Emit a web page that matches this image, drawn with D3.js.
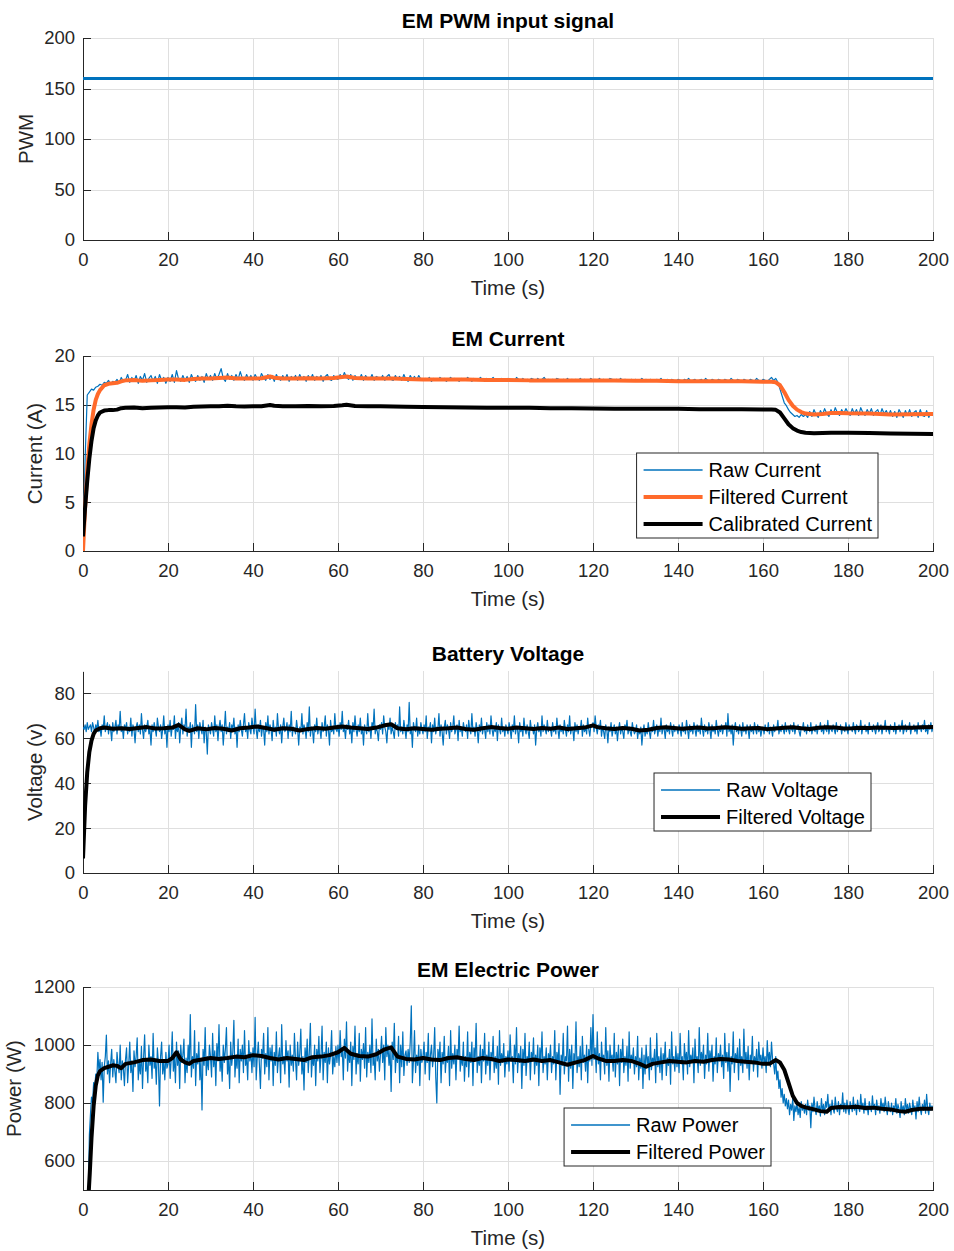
<!DOCTYPE html>
<html>
<head>
<meta charset="utf-8">
<script src="https://cdn.jsdelivr.net/npm/d3@7"></script>
<style>
  body { margin: 0; background: #fff; }
  svg { display: block; }
  text { font-family: "Liberation Sans", Arial, Helvetica, sans-serif; }
  .grid line { stroke: #dfdfdf; stroke-width: 1; shape-rendering: crispEdges; }
  .grid .domain { display: none; }
  .axis text { fill: #262626; font-size: 18.5px; }
  .axis line, .axis path { stroke: #262626; shape-rendering: crispEdges; }
</style>
</head>
<body>
<div id="chart"></div>
<script>
// ---- data ----
var timeTicks = [0, 20, 40, 60, 80, 100, 120, 140, 160, 180, 200]
var pwmTicks = [0, 50, 100, 150, 200]
var currentTicks = [0, 5, 10, 15, 20]
var voltageTicks = [0, 20, 40, 60, 80]
var powerTicks = [600, 800, 1000, 1200]

var pwmTime = [0, 200]
var pwmValue = [160, 160]

// raw current sampled every 0.5 s, raw voltage / power every 0.25 s (from t = 0)
var currentStep = 0.5
var rawStep = 0.25

var rawCurrent = [
  0.2,9.5,16.0,16.3,16.6,16.5,16.8,16.9,17.1,17.0,17.3,17.2,17.5,17.1,17.4,17.3,17.6,17.2,17.8,17.4,
  17.5,18.1,17.3,17.8,17.4,18.0,17.2,17.9,17.5,18.2,17.3,17.7,18.0,17.4,17.9,17.2,18.1,17.5,17.8,17.2,
  17.8,17.4,18.1,17.3,18.5,17.6,17.4,18.0,17.5,17.9,17.3,18.1,17.6,17.4,18.0,17.5,17.9,17.3,18.2,17.6,
  18.0,17.5,18.2,17.6,18.1,18.7,17.7,17.4,18.2,17.6,18.0,17.5,18.1,17.6,18.4,17.7,17.5,18.1,17.6,18.0,
  17.5,18.1,17.7,17.5,18.2,17.8,17.5,18.1,17.6,18.0,17.4,18.1,17.7,17.5,18.0,17.6,18.1,17.4,17.9,17.6,
  18.0,17.5,18.1,17.6,17.9,17.4,18.0,17.6,18.1,17.5,17.9,17.6,18.0,17.4,17.9,18.1,17.6,17.5,18.0,17.7,
  17.6,18.1,17.7,18.3,17.8,17.6,18.1,17.5,18.0,17.7,17.6,18.1,17.5,18.0,17.7,17.6,18.1,17.5,17.9,17.8,
  17.6,18.0,17.5,17.9,18.1,17.6,17.5,18.0,17.6,17.9,17.5,18.1,17.6,17.4,18.0,17.6,17.9,17.5,18.0,17.6,
  17.5,17.7,17.6,17.8,17.4,17.7,17.6,17.5,17.8,17.6,17.7,17.4,17.6,17.8,17.5,17.7,17.6,17.4,17.7,17.6,
  17.5,17.8,17.6,17.4,17.7,17.6,17.5,17.8,17.6,17.4,17.7,17.5,17.6,17.8,17.5,17.6,17.4,17.7,17.6,17.5,
  17.7,17.5,17.6,17.4,17.8,17.6,17.5,17.7,17.4,17.6,17.5,17.7,17.6,17.4,17.7,17.5,17.6,17.8,17.5,17.6,
  17.4,17.6,17.5,17.7,17.6,17.4,17.6,17.5,17.7,17.4,17.6,17.5,17.6,17.4,17.7,17.5,17.6,17.4,17.5,17.7,
  17.5,17.6,17.4,17.7,17.5,17.6,17.4,17.5,17.7,17.6,17.4,17.6,17.5,17.7,17.4,17.6,17.5,17.4,17.6,17.5,
  17.6,17.4,17.5,17.7,17.5,17.6,17.4,17.6,17.5,17.4,17.6,17.5,17.7,17.4,17.5,17.6,17.4,17.6,17.5,17.4,
  17.6,17.5,17.4,17.6,17.5,17.7,17.4,17.5,17.6,17.4,17.5,17.6,17.4,17.7,17.5,17.4,17.6,17.5,17.4,17.6,
  17.5,17.4,17.6,17.5,17.4,17.7,17.5,17.4,17.6,17.5,17.3,17.6,17.5,17.4,17.6,17.5,17.4,17.7,17.5,17.4,
  17.6,17.5,17.4,17.6,17.8,17.5,17.7,17.3,16.6,15.9,15.2,14.9,14.5,14.2,14.0,13.8,13.9,13.7,14.0,13.8,
  14.0,13.7,14.3,13.8,14.5,14.0,13.7,14.4,14.0,14.6,14.1,13.8,14.5,14.0,14.7,14.2,13.9,14.5,14.1,14.6,
  14.2,13.9,14.6,14.1,14.5,13.9,14.7,14.2,13.9,14.5,14.1,14.6,13.9,14.3,14.5,13.9,14.6,14.1,14.4,13.9,
  14.4,13.8,14.3,13.7,14.5,14.1,13.7,14.4,13.9,14.5,13.8,14.2,14.4,13.7,14.5,13.9,13.8,14.4,13.7,14.2,
  14.0
]

var filteredCurrent = [
  [0,0],[0.5,4.5],[1,8.3],[1.5,11],[2,13],[2.5,14.5],[3,15.5],[3.5,16.1],[4,16.5],[5,17.0],[6,17.15],
  [7,17.2],[8,17.25],[9,17.4],[10,17.5],[12,17.55],[14,17.45],[16,17.5],[18,17.55],[20,17.6],[22,17.6],
  [24,17.55],[26,17.65],[28,17.7],[30,17.7],[32,17.75],[34,17.8],[36,17.7],[38,17.7],[40,17.7],[42,17.72],
  [44,17.9],[45,17.78],[47,17.7],[50,17.7],[53,17.72],[56,17.7],[59,17.75],[61,17.85],[62,17.9],[64,17.75],
  [67,17.7],[70,17.7],[73,17.68],[76,17.65],[80,17.6],[85,17.6],[90,17.58],[95,17.55],[100,17.55],[105,17.5],
  [110,17.5],[115,17.5],[120,17.5],[125,17.48],[130,17.45],[135,17.45],[140,17.42],[145,17.42],[150,17.4],
  [155,17.4],[160,17.35],[162,17.35],[163,17.3],[164,17.0],[165,16.3],[166,15.5],[167,14.9],[168,14.5],
  [169,14.25],[170,14.1],[172,14.0],[174,14.05],[176,14.15],[178,14.15],[180,14.12],[185,14.1],[190,14.0],
  [195,14.02],[200,14.05]
]

var calibratedCurrent = [
  [0,1.5],[0.5,4.5],[1,7.2],[1.5,9.5],[2,11.3],[2.5,12.6],[3,13.4],[3.5,13.9],[4,14.2],[5,14.4],[6,14.45],
  [7,14.45],[8,14.5],[9,14.65],[10,14.7],[12,14.72],[14,14.65],[16,14.7],[18,14.72],[20,14.75],[22,14.75],
  [24,14.72],[26,14.8],[28,14.82],[30,14.85],[32,14.85],[34,14.9],[36,14.85],[38,14.82],[40,14.85],[42,14.85],
  [44,14.98],[45,14.9],[47,14.85],[50,14.85],[53,14.87],[56,14.85],[59,14.88],[61,14.95],[62,15.0],[64,14.88],
  [67,14.85],[70,14.85],[73,14.82],[76,14.8],[80,14.78],[85,14.75],[90,14.72],[95,14.7],[100,14.7],[105,14.68],
  [110,14.65],[115,14.65],[120,14.62],[125,14.6],[130,14.6],[135,14.58],[140,14.58],[145,14.55],[150,14.55],
  [155,14.55],[160,14.52],[162,14.52],[163,14.48],[164,14.2],[165,13.6],[166,13.0],[167,12.6],[168,12.35],
  [169,12.2],[170,12.12],[172,12.08],[174,12.1],[176,12.12],[178,12.12],[180,12.12],[185,12.1],[190,12.05],
  [195,12.02],[200,12.0]
]

var rawVoltage = [
  65,64,66,63,67,64,65,66,63,67,65,62,66,64,68,63,65,61,66,64,70,63,65,67,62,66,64,59,67,63,65,68,62,66,64,72,63,65,60,66,
  64,67,62,65,63,69,61,66,64,58,65,67,63,66,62,71,64,60,66,63,65,68,62,64,57,66,63,67,64,61,69,65,63,66,60,64,70,62,65,56,
  66,63,68,61,65,64,70,60,66,63,67,58,65,69,62,66,64,73,61,65,63,67,56,66,64,62,75,63,66,60,67,64,62,68,58,65,63,53,66,64,
  62,67,64,61,70,63,66,59,65,68,63,66,57,64,72,62,65,63,67,60,66,64,69,62,65,56,66,63,68,64,61,66,71,63,65,60,67,64,62,69,
  65,62,73,64,60,66,63,68,61,65,64,57,67,63,70,62,66,64,59,68,63,65,61,71,64,62,66,58,65,69,63,64,67,60,66,63,72,61,65,64,
  62,68,64,57,65,63,71,62,66,64,60,67,63,74,61,65,64,58,66,63,69,62,65,64,60,67,63,65,70,61,66,64,57,68,63,65,62,71,64,63,
  66,61,67,64,72,63,65,60,66,64,68,62,65,58,67,63,70,64,61,66,63,69,62,65,57,66,64,62,71,63,65,60,67,64,73,62,65,63,59,66,
  64,67,62,70,65,63,58,66,64,69,62,65,63,60,67,64,66,61,74,63,65,62,68,64,60,66,63,76,62,65,56,67,64,63,69,61,65,62,67,64,
  62,66,63,70,60,65,64,67,58,66,63,69,62,65,64,71,61,66,63,57,65,68,62,66,64,60,67,63,65,70,62,64,66,59,68,63,65,61,67,64,
  63,66,60,68,64,62,71,63,65,61,67,64,58,66,63,69,62,65,64,60,67,63,66,62,70,64,61,65,63,67,59,66,64,62,69,63,65,61,66,64,
  62,67,64,60,66,63,70,62,65,64,58,67,63,65,61,69,64,62,66,63,60,68,64,65,62,66,57,64,67,63,65,61,70,63,66,64,62,68,63,65,
  64,61,67,63,65,62,69,64,60,66,63,65,62,68,64,61,66,63,70,62,65,64,59,67,63,66,62,65,64,68,61,66,63,65,62,69,64,61,66,65,
  67,63,70,65,62,66,64,68,61,65,63,60,66,64,58,65,63,67,61,64,66,62,65,59,64,67,62,65,63,60,66,64,68,62,65,63,61,67,64,62,
  63,66,60,64,62,65,57,63,66,61,64,62,67,63,60,65,63,68,62,64,66,61,65,63,69,62,65,64,60,66,63,65,62,67,64,61,66,63,65,64,
  62,66,64,61,67,63,65,62,68,64,60,66,63,65,62,67,64,61,66,63,65,62,69,64,61,66,63,65,62,67,64,60,66,63,65,62,68,64,61,65,
  63,66,62,65,64,67,61,71,63,65,62,66,57,64,67,63,65,62,66,64,61,67,63,65,62,66,64,60,66,63,65,62,67,64,62,66,63,65,61,64,
  65,62,66,64,63,67,62,65,64,61,66,63,65,64,68,62,65,63,66,64,62,67,63,65,64,62,66,64,63,67,62,65,64,66,63,61,65,64,67,63,
  65,62,66,64,63,67,62,65,64,63,66,62,65,64,67,63,65,62,66,64,63,68,62,65,64,63,66,64,62,67,63,65,64,66,62,65,64,63,67,64,
  62,66,64,65,63,67,64,62,66,65,63,64,68,62,65,64,66,63,65,62,67,64,65,63,66,64,62,65,67,63,64,66,62,65,64,68,63,65,64,62,
  66,64,65,63,67,62,65,64,66,63,65,68,62,64,66,63,65,64,67,62,65,64,66,63,65,62,67,64,65,63,66,64,68,63,65,62,66,64,67,63,
  65
]

var filteredVoltage = [
  [0,6.5],[0.5,30],[1,45],[1.5,54],[2,59],[2.5,62],[3,63.5],[4,64.5],[5,64.8],[7,64.3],[9,64.5],[11,64.2],
  [13,64.6],[15,65],[17,64.4],[19,64.5],[21,64.8],[22.5,66],[24,64],[25,63.3],[27,64.5],[29,64],[31,64.6],
  [33,64.3],[35,63.5],[37,64.5],[39,64.8],[41,65.3],[43,64.6],[45,63.8],[47,64.5],[49,64.3],[51,63.5],
  [53,64.2],[55,64.6],[57,64.3],[59,64.8],[61,65.3],[63,64.8],[65,64.5],[67,64.2],[69,64.8],[71,65.8],
  [72.5,66.3],[74,64.5],[76,64],[78,64.5],[80,64.2],[82,63.8],[84,64.3],[86,64.5],[88,64.8],[90,64.2],
  [92,63.8],[94,64.5],[96,65],[98,64.6],[100,64.3],[102,64.8],[104,64.5],[106,64.2],[108,64.6],[110,64.3],
  [112,64.8],[114,64.2],[116,64.5],[118,64.8],[120,65.8],[121,65],[123,64.5],[125,64.2],[127,64.6],
  [129,64.3],[131,63.5],[133,63.8],[135,64.6],[137,64.9],[139,64.6],[141,64.3],[143,64.6],[145,64.8],
  [147,64.4],[149,64.6],[151,64.9],[153,64.7],[155,64.3],[157,64.5],[159,64.6],[161,64.1],[163,64.4],
  [165,64.7],[167,64.9],[169,64.5],[171,64.2],[173,64.7],[175,64.9],[177,64.8],[179,64.4],[181,64.5],
  [183,64.7],[185,64.6],[187,64.8],[189,64.7],[191,64.6],[193,64.8],[195,64.7],[197,64.9],[200,65]
]

var rawPower = [
  480,480,480,480,480,480,690,760,820,800,870,850,900,880,975,910,950,880,940,803,925,960,1034,900,945,870,935,985,890,950,910,870,975,930,905,1000,880,945,920,860,
  950,990,870,930,1010,905,945,840,980,925,960,1025,880,940,900,995,850,955,1035,910,945,870,1000,930,960,885,1040,920,950,865,990,935,790,960,1010,900,945,880,975,920,
  935,1000,885,950,1045,910,960,870,1010,930,980,850,1000,940,965,1020,870,955,905,1000,930,1105,890,960,920,1050,860,970,935,1010,880,950,776,985,930,1060,895,960,915,1000,
  960,890,1040,925,980,860,1005,945,1070,910,960,875,1000,940,985,1060,900,955,850,1010,930,975,1085,890,960,920,1020,870,985,945,1000,905,1050,930,960,880,1015,945,975,905,
  990,925,1095,880,960,1010,935,850,985,955,1040,900,970,925,1060,880,990,945,1000,860,975,930,1045,905,960,990,870,1070,935,960,900,1015,945,980,855,1000,930,965,910,1040,
  950,880,1010,930,970,1055,900,960,845,990,940,1020,905,975,1075,890,960,930,1000,860,985,945,1030,905,960,1065,880,975,940,1010,870,990,935,965,1050,900,960,925,995,940,
  1000,930,1050,960,990,880,1020,955,1080,910,975,940,1010,860,995,950,1065,900,970,935,1040,875,985,950,1005,920,1060,890,975,940,1000,905,1090,930,960,880,1020,945,985,910,
  970,1030,940,1000,880,1060,960,1000,930,985,840,1010,950,1075,905,970,940,1030,870,1000,925,1045,895,965,980,930,985,940,1010,1135,870,945,1050,905,965,930,1000,860,985,940,
  960,1010,900,975,940,1040,880,965,1000,925,960,1060,890,800,985,945,1010,870,975,935,1030,905,960,940,995,860,1050,920,970,935,1000,880,985,950,1065,910,960,930,1010,875,
  960,925,1045,890,975,940,1010,860,990,945,1075,905,960,930,1000,870,985,945,1040,900,965,930,1010,880,975,945,1030,905,960,920,995,865,1050,930,970,940,1005,890,960,935,
  980,910,1035,945,960,870,1000,935,1060,905,970,940,995,850,985,930,1040,895,960,940,1010,880,975,945,1025,900,965,930,1000,860,990,945,1045,905,960,935,990,880,970,945,
  1000,905,960,935,1050,880,975,940,1005,830,965,930,1040,900,960,945,1065,875,985,920,1000,850,970,935,1080,905,960,925,995,880,1030,940,965,910,1000,870,985,945,1060,930,
  1105,950,990,905,1045,935,970,880,1010,945,965,900,1060,930,980,875,1000,945,965,910,1040,890,975,935,1000,860,985,940,1020,905,960,930,995,875,1045,920,965,940,990,900,
  960,925,1030,880,955,920,990,850,965,900,1000,935,960,880,1025,915,955,940,985,870,1040,925,960,905,990,880,970,940,1010,895,955,930,985,865,1045,935,960,910,995,925,
  970,905,1040,935,960,880,1005,945,975,900,1050,925,965,940,990,870,1020,940,960,905,1060,930,975,945,1000,885,965,935,1040,910,980,945,1000,875,960,935,1025,905,970,945,
  1000,925,965,885,1040,940,975,910,1005,840,960,935,1045,905,970,945,990,880,1020,930,960,905,1055,935,975,920,995,880,965,940,1030,910,960,935,985,890,1010,945,965,920,
  990,935,960,905,1015,940,975,925,1010,950,935,900,960,880,910,850,880,820,850,800,830,790,815,780,810,760,795,775,815,740,790,770,800,760,785,750,805,775,790,765,
  795,760,810,775,790,715,800,770,820,780,760,805,775,790,755,815,770,795,760,805,785,830,770,795,760,810,780,765,820,785,770,805,760,795,780,835,770,800,765,810,
  780,760,805,790,770,820,775,795,760,810,785,770,830,780,800,765,815,775,790,760,805,785,770,825,780,795,760,810,775,790,765,815,780,800,770,820,785,760,805,780,
  770,800,760,790,775,815,765,795,780,750,805,770,790,760,815,775,795,765,800,780,760,810,775,790,745,805,770,820,780,760,795,775,810,765,830,780,760,800,775,790,
  780
]

var filteredPower = [
  [1.3,480],[1.6,560],[2,680],[2.5,790],[3,860],[3.5,895],[4,910],[5,920],[6,925],[7,930],[8,928],[9,920],
  [10,935],[12,940],[14,948],[16,950],[18,945],[20,945],[21,955],[22,975],[23,950],[24,940],[25,935],
  [26,945],[28,950],[30,955],[32,952],[34,955],[36,960],[38,958],[40,965],[42,962],[44,955],[46,950],
  [48,955],[50,952],[52,948],[54,958],[56,960],[58,965],[60,975],[61.5,990],[63,970],[65,962],[67,960],
  [69,968],[71,985],[72.5,992],[74,960],[76,952],[78,950],[80,955],[82,950],[84,948],[86,955],[88,958],
  [90,952],[92,948],[94,955],[96,952],[98,945],[100,950],[102,948],[104,945],[106,950],[108,945],[110,948],
  [112,940],[114,932],[116,940],[118,948],[120,962],[121,955],[123,945],[125,945],[127,948],[129,945],
  [131,935],[132.5,925],[134,935],[136,940],[138,945],[140,942],[142,940],[144,945],[146,942],[148,948],
  [150,952],[152,950],[154,945],[156,942],[158,940],[160,935],[161.5,935],[163,948],[164,940],[165,915],
  [166,870],[167,825],[168,800],[169,790],[170,785],[172,778],[173.5,772],[175,770],[176,783],[178,786],
  [180,785],[182,787],[184,783],[186,784],[188,780],[190,778],[192,772],[193.5,770],[195,776],[197,780],
  [200,780]
]

// ---- layout ----
var width = 954, height = 1251
var left = 83, right = 933
var blue = "#0072bd", orange = "#ff6a2b", black = "#000000"

var svg = d3.select("#chart").append("svg")
  .attr("width", width)
  .attr("height", height)

var x = d3.scaleLinear().domain([0, 200]).range([left, right])

function sampled(values, step) {
  return values.map(function(v, i) { return [i * step, v] })
}

var panels = [
  {
    title: "EM PWM input signal", ylabel: "PWM", top: 38, bottom: 240,
    yDomain: [0, 200], yTicks: pwmTicks, ylabelX: 33,
    series: [{ data: pwmTime.map(function(t, i) { return [t, pwmValue[i]] }), color: blue, width: 3 }]
  },
  {
    title: "EM Current", ylabel: "Current (A)", top: 356, bottom: 551,
    yDomain: [0, 20], yTicks: currentTicks, ylabelX: 42,
    series: [
      { data: sampled(rawCurrent, currentStep), color: blue, width: 1.2, name: "Raw Current" },
      { data: filteredCurrent, color: orange, width: 4, name: "Filtered Current" },
      { data: calibratedCurrent, color: black, width: 4, name: "Calibrated Current" }
    ],
    legend: { right: 878, bottom: 538 }
  },
  {
    title: "Battery Voltage", ylabel: "Voltage (v)", top: 671, bottom: 873,
    yDomain: [0, 90], yTicks: voltageTicks, ylabelX: 42,
    series: [
      { data: sampled(rawVoltage, rawStep), color: blue, width: 1.2, name: "Raw Voltage" },
      { data: filteredVoltage, color: black, width: 4, name: "Filtered Voltage" }
    ],
    legend: { right: 871, bottom: 831 }
  },
  {
    title: "EM Electric Power", ylabel: "Power (W)", top: 987, bottom: 1190,
    yDomain: [500, 1200], yTicks: powerTicks, ylabelX: 21,
    series: [
      { data: sampled(rawPower, rawStep), color: blue, width: 1.2, name: "Raw Power" },
      { data: filteredPower, color: black, width: 4, name: "Filtered Power" }
    ],
    legend: { right: 771, bottom: 1166 }
  }
]

panels.forEach(function(p, k) {
  var g = svg.append("g")
  var y = d3.scaleLinear().domain(p.yDomain).range([p.bottom, p.top])

  // grid
  g.append("g").attr("class", "grid")
    .attr("transform", "translate(0," + p.bottom + ")")
    .call(d3.axisBottom(x).tickValues(timeTicks).tickSize(-(p.bottom - p.top)).tickFormat(""))
  g.append("g").attr("class", "grid")
    .attr("transform", "translate(" + left + ",0)")
    .call(d3.axisLeft(y).tickValues(p.yTicks).tickSize(-(right - left)).tickFormat(""))

  // axes (inward ticks, no box)
  g.append("g").attr("class", "axis")
    .attr("transform", "translate(0," + p.bottom + ")")
    .call(d3.axisBottom(x).tickValues(timeTicks).tickFormat(d3.format("d"))
      .tickSizeInner(-8).tickSizeOuter(0).tickPadding(13))
  g.append("g").attr("class", "axis")
    .attr("transform", "translate(" + left + ",0)")
    .call(d3.axisLeft(y).tickValues(p.yTicks).tickFormat(d3.format("d"))
      .tickSizeInner(-8).tickSizeOuter(0).tickPadding(8))

  // data, clipped to the axes box
  svg.append("clipPath").attr("id", "clip" + k)
    .append("rect")
    .attr("x", left).attr("y", p.top)
    .attr("width", right - left).attr("height", p.bottom - p.top)

  var line = d3.line().x(function(d) { return x(d[0]) }).y(function(d) { return y(d[1]) })

  var plot = g.append("g").attr("clip-path", "url(#clip" + k + ")")
  p.series.forEach(function(s) {
    plot.append("path")
      .attr("d", line(s.data))
      .attr("fill", "none")
      .attr("stroke", s.color)
      .attr("stroke-width", s.width)
      .attr("stroke-linejoin", "round")
  })

  // title and labels
  g.append("text")
    .attr("x", (left + right) / 2).attr("y", p.top - 10)
    .attr("text-anchor", "middle")
    .style("font-size", "21px").style("font-weight", "bold").attr("fill", "#000")
    .text(p.title)

  g.append("text")
    .attr("x", (left + right) / 2).attr("y", p.bottom + 55)
    .attr("text-anchor", "middle")
    .style("font-size", "20.5px").attr("fill", "#262626")
    .text("Time (s)")

  g.append("text")
    .attr("transform", "translate(" + p.ylabelX + "," + (p.top + p.bottom) / 2 + ") rotate(-90)")
    .attr("text-anchor", "middle")
    .style("font-size", "20.5px").attr("fill", "#262626")
    .text(p.ylabel)

  // legend
  if (p.legend) {
    var entries = p.series.filter(function(s) { return s.name })
    var lg = g.append("g")
    var box = lg.append("rect").attr("fill", "#fff").attr("stroke", "#262626").attr("stroke-width", 1)
    var texts = []
    entries.forEach(function(s) {
      texts.push(lg.append("text")
        .style("font-size", "20px").attr("fill", "#000")
        .attr("dy", "0.35em")
        .text(s.name))
    })
    var tw = d3.max(texts, function(t) { return t.node().getComputedTextLength() })
    var bw = 7 + 59 + 6 + tw + 6
    var bh = 27 * entries.length + 4
    var bx = p.legend.right - bw, by = p.legend.bottom - bh
    box.attr("x", bx).attr("y", by).attr("width", bw).attr("height", bh)
    entries.forEach(function(s, i) {
      var cy = by + 17 + 27 * i
      lg.append("line")
        .attr("x1", bx + 7).attr("x2", bx + 66)
        .attr("y1", cy).attr("y2", cy)
        .attr("stroke", s.color).attr("stroke-width", s.name.indexOf("Raw") === 0 ? 1.5 : s.width)
      texts[i].attr("x", bx + 72).attr("y", cy)
    })
  }
})
</script>
</body>
</html>
